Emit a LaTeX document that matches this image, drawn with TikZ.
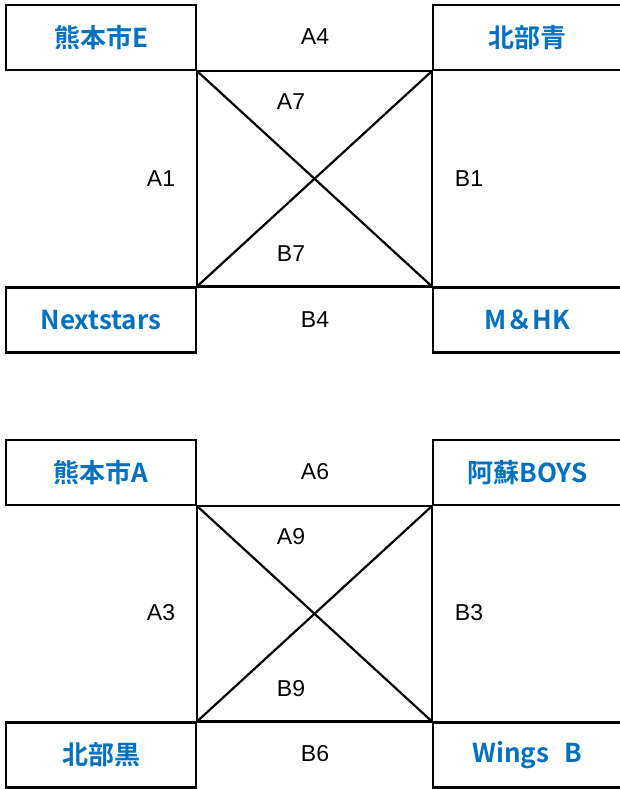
\documentclass[tikz,border=0pt]{standalone}
\usepackage{fontspec}
\setmainfont{Liberation Sans}
\newfontfamily\jpfont[BoldFont={Noto Sans CJK JP Bold}]{Noto Sans CJK JP}
\usetikzlibrary{positioning}
\definecolor{teamblue}{HTML}{0070C0}
\tikzset{
    team/.style={
           rectangle,
           draw=black, line width=2.2pt,
           minimum width=190pt,
           minimum height=65pt,
           inner sep=0pt,
           text=teamblue,
           font=\jpfont\bfseries\fontsize{26}{28}\selectfont,
           },
    teamr/.style={team, minimum width=189pt},
    game/.style={
           inner sep=0pt,
           font=\fontsize{23}{26}\selectfont,
           },
    link/.style={line width=2.2pt},
}
\begin{document}
\begin{tikzpicture}[x=1pt, y=-1pt]
 \useasboundingbox (0,0) rectangle (619,789);

 % First group
 % corner boxes hold the team names
 \node[team]  (KE)   at (101,37.5)   {熊本市E};
 \node[teamr] (HBB)  at (527.5,37.5) {北部青};
 \node[team]  (NEXT) at (101,320)    {Nextstars};
 \node[teamr] (MHK)  at (527.5,320)  {M＆HK};

 % frame between the boxes and the crossing
 \draw[link] (KE.south east) -- (HBB.south west);
 \draw[link] (NEXT.north east) -- (MHK.north west);
 \draw[link] (KE.south east) -- (NEXT.north east);
 \draw[link] (HBB.south west) -- (MHK.north west);
 \draw[link] (KE.south east) -- (MHK.north west);
 \draw[link] (HBB.south west) -- (NEXT.north east);

 % game numbers
 \node[game] (A4) at (315,37)  {A4};
 \node[game] (A7) at (291,102) {A7};
 \node[game] (A1) at (161,179) {A1};
 \node[game] (B1) at (469,179) {B1};
 \node[game] (B7) at (291,254) {B7};
 \node[game] (B4) at (315,320) {B4};

 % Second group
 \node[team]  (KA)   at (101,472.5)   {熊本市A};
 \node[teamr] (ASO)  at (527.5,472.5) {阿蘇BOYS};
 \node[team]  (HBK)  at (101,755)     {北部黒};
 \node[teamr] (WING) at (527.5,755)   {Wings\hspace{0.6em}B};

 \draw[link] (KA.south east) -- (ASO.south west);
 \draw[link] (HBK.north east) -- (WING.north west);
 \draw[link] (KA.south east) -- (HBK.north east);
 \draw[link] (ASO.south west) -- (WING.north west);
 \draw[link] (KA.south east) -- (WING.north west);
 \draw[link] (ASO.south west) -- (HBK.north east);

 \node[game] (A6) at (315,472) {A6};
 \node[game] (A9) at (291,537) {A9};
 \node[game] (A3) at (161,613) {A3};
 \node[game] (B3) at (469,613) {B3};
 \node[game] (B9) at (291,689) {B9};
 \node[game] (B6) at (315,754) {B6};
\end{tikzpicture}
\end{document}
